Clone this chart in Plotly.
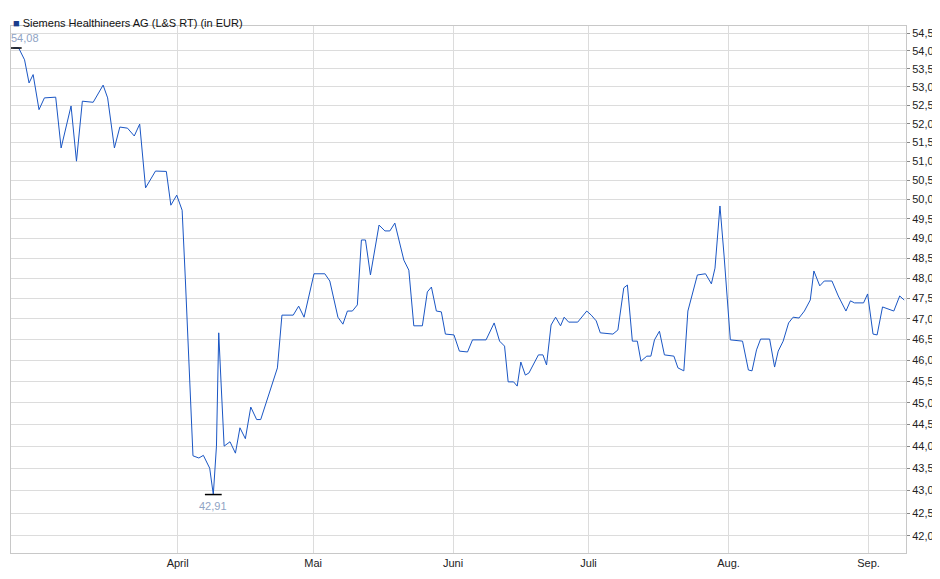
import numpy as np
import pandas as pd
import plotly.graph_objects as go

# day offsets relative to 2025-04-01 and prices (EUR)
day_offsets = [-36.4,-35.2,-33.9,-32.9,-32.0,-30.7,-29.5,-27.0,-25.8,-23.6,-22.4,-21.1,-18.7,-16.5,-15.5,-14.0,
 -12.8,-11.1,-9.6,-8.4,-7.1,-4.9,-2.5,-1.5,-0.2,1.0,1.7,2.5,3.4,4.7,5.7,7.1,7.9,8.6,9.1,9.6,10.3,11.6,12.8,
 13.8,15.0,16.2,17.5,18.4,19.7,22.1,23.1,25.6,26.8,28.0,30.2,32.6,33.7,35.5,36.6,37.6,38.7,39.8,40.7,41.6,
 42.7,44.6,45.9,47.0,48.1,50.1,51.2,52.3,54.2,55.3,56.2,57.3,58.4,59.3,61.2,62.4,64.2,65.3,68.3,70.1,71.3,
 72.4,73.2,74.4,75.2,76.0,77.0,77.8,79.9,80.9,81.7,82.7,83.7,84.8,85.6,86.6,88.6,90.6,91.6,92.7,93.6,96.4,
 97.5,98.8,99.6,100.7,101.8,102.6,103.9,104.8,105.6,106.7,107.8,109.9,110.8,112.1,113.0,115.1,116.9,118.2,
 119.0,120.1,121.0,122.4,125.1,126.4,127.2,128.2,129.1,131.1,132.2,133.0,134.1,135.3,136.3,137.6,138.8,
 140.1,140.9,142.2,143.2,144.9,146.3,148.0,149.0,149.9,151.9,152.8,154.0,154.9,156.1,158.6,159.9,160.9]
prices = [54.08,54.08,53.75,53.11,53.34,52.38,52.70,52.72,51.35,52.48,51.00,52.61,52.58,53.05,52.70,51.35,
 51.91,51.88,51.67,51.99,50.30,50.74,50.73,49.85,50.11,49.72,48.00,45.98,43.78,43.73,43.79,43.50,42.91,44.00,
 46.66,45.51,44.00,44.10,43.84,44.42,44.17,44.90,44.61,44.61,45.04,45.82,47.09,47.09,47.31,47.04,48.11,48.11,
 47.93,47.04,46.87,47.19,47.19,47.34,48.96,48.96,48.08,49.34,49.19,49.19,49.39,48.45,48.20,46.83,46.83,47.66,
 47.78,47.19,47.17,46.63,46.61,46.22,46.20,46.49,46.49,46.90,46.46,46.34,45.49,45.49,45.39,45.96,45.65,45.70,
 46.13,46.13,45.89,46.85,47.04,46.83,47.04,46.92,46.92,47.19,47.09,46.95,46.66,46.63,46.73,47.76,47.83,46.46,
 46.46,45.98,46.10,46.10,46.49,46.70,46.13,46.10,45.82,45.75,47.19,48.08,48.11,47.86,48.25,49.83,48.58,46.49,
 46.46,45.77,45.75,46.25,46.51,46.51,45.84,46.22,46.46,46.90,47.04,47.02,47.19,47.46,48.18,47.81,47.93,47.93,
 47.56,47.19,47.44,47.39,47.39,47.61,46.63,46.61,47.29,47.19,47.56,47.46]
month_ticks = ["2025-04-01","2025-05-01","2025-06-01","2025-07-01","2025-08-01","2025-09-01"]
month_labels = ["April","Mai","Juni","Juli","Aug.","Sep."]
y_ticks = [42.0 + 0.5*i for i in range(26)]
title = "Siemens Healthineers AG (L&S RT) (in EUR)"

base = pd.Timestamp("2025-04-01")
dates = base + pd.to_timedelta(day_offsets, unit="D")
imax = int(np.argmax(prices)); imin = int(np.argmin(prices))

fig = go.Figure()
fig.add_trace(go.Scatter(x=dates, y=prices, mode="lines",
                         line=dict(color="#1a56c4", width=1), hoverinfo="skip"))
fig.add_trace(go.Scatter(x=[dates[imax], dates[imin]], y=[prices[imax], prices[imin]], mode="markers",
                         marker=dict(symbol="line-ew", size=12, line=dict(color="black", width=1.5)),
                         hoverinfo="skip"))
fmt = lambda v: f"{v:.2f}".replace(".", ",")
fig.add_annotation(x=dates[imax], y=np.log10(prices[imax]), text=fmt(prices[imax]), showarrow=False,
                   yshift=10, xshift=12, font=dict(size=11, color="#8fa3c4", family="Liberation Sans"))
fig.add_annotation(x=dates[imin], y=np.log10(prices[imin]), text=fmt(prices[imin]), showarrow=False,
                   yshift=-11, font=dict(size=11, color="#8fa3c4", family="Liberation Sans"))

fig.update_layout(
    width=940, height=579, margin=dict(l=3, r=42, t=18, b=34, autoexpand=False),
    paper_bgcolor="white", plot_bgcolor="white", showlegend=False,
    font=dict(family="Liberation Sans", size=11, color="#222"),
    xaxis=dict(range=[base + pd.Timedelta(days=-36.9), base + pd.Timedelta(days=161.3)],
               tickvals=month_ticks, ticktext=month_labels, showgrid=True, gridcolor="#dcdcdc",
               ticks="", showline=True, linecolor="#c8c8c8", mirror=True, zeroline=False,
               tickfont=dict(size=11), automargin=False),
    yaxis=dict(type="log", side="right", range=[np.log10(41.63), np.log10(54.70)],
               tickvals=y_ticks, ticktext=[fmt(v)[:-1] for v in y_ticks], showgrid=True,
               gridcolor="#dcdcdc", ticks="outside", ticklen=3, tickcolor="#888",
               showline=True, linecolor="#c8c8c8", mirror=True, zeroline=False,
               tickfont=dict(size=11), automargin=False),
)
fig.add_annotation(xref="paper", yref="paper", x=0.0, y=1.0, yshift=11, xanchor="left", showarrow=False,
                   text="<span style='color:#1a3c8c'>■</span> " + title,
                   font=dict(size=11, color="#111", family="Liberation Sans"))
fig.write_html("out.html")
